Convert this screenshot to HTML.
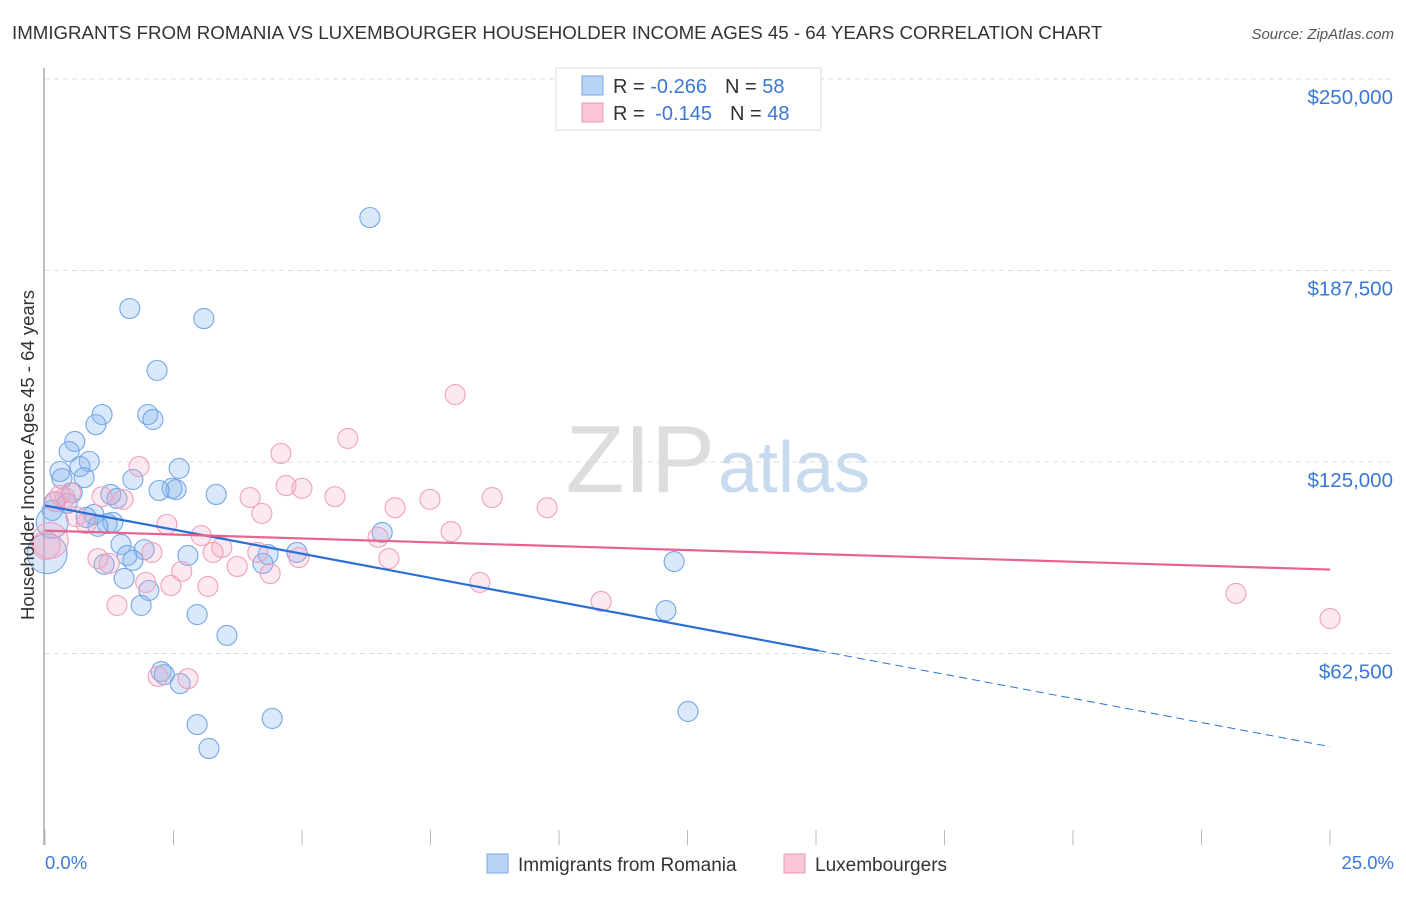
<!DOCTYPE html>
<html><head><meta charset="utf-8"><style>
body{margin:0;background:#fff;font-family:"Liberation Sans",sans-serif;}
svg text{font-family:"Liberation Sans",sans-serif;}
</style></head><body>
<svg id="chart" width="1406" height="892">
<text x="12" y="39" font-size="18.7" fill="#333">IMMIGRANTS FROM ROMANIA VS LUXEMBOURGER HOUSEHOLDER INCOME AGES 45 - 64 YEARS CORRELATION CHART</text>
<text x="1394" y="39" font-size="15" fill="#555" font-style="italic" text-anchor="end">Source: ZipAtlas.com</text>
<text x="715" y="492" font-size="96" fill="#ddd" text-anchor="end" font-family="Liberation Serif">ZIP</text>
<text x="718" y="492" font-size="72" fill="#c8daf0">atlas</text>
<g id="grid"></g><g id="axes"></g><g id="pts"></g><g id="trends"></g>
<text x="34" y="455" font-size="18.5" fill="#333" text-anchor="middle" transform="rotate(-90 34 455)">Householder Income Ages 45 - 64 years</text>
<text x="45" y="869" font-size="18.5" fill="#3a78d8">0.0%</text>
<text x="1394" y="869" font-size="18.5" fill="#3a78d8" text-anchor="end">25.0%</text>
<g>
<rect x="556" y="68" width="265" height="62" fill="#fff" stroke="#ddd"/>
<rect x="582" y="76" width="21" height="19" fill="#b8d3f5" stroke="#7aa8e8"/>
<rect x="582" y="103" width="21" height="19" fill="#fac6d6" stroke="#ee98b4"/>
<text x="613" y="93" font-size="20" fill="#333">R = <tspan fill="#3a78d8">-0.266</tspan><tspan dx="18">N = </tspan><tspan fill="#3a78d8">58</tspan></text>
<text x="613" y="120" font-size="20" fill="#333">R = <tspan fill="#3a78d8" dx="5">-0.145</tspan><tspan dx="18">N = </tspan><tspan fill="#3a78d8">48</tspan></text>
</g>
<g>
<rect x="487" y="854" width="21" height="19" fill="#b8d3f5" stroke="#7aa8e8"/>
<text x="518" y="871" font-size="19" fill="#333">Immigrants from Romania</text>
<rect x="784" y="854" width="21" height="19" fill="#fac6d6" stroke="#ee98b4"/>
<text x="815" y="871" font-size="19" fill="#333">Luxembourgers</text>
</g>
</svg>
<script>
const yTicks=[62500,125000,187500,250000];
const yTickLabels=["$62,500","$125,000","$187,500","$250,000"];
const xTicks=[0,2.5,5,7.5,10,12.5,15,17.5,20,22.5,25];
const blueX=[6.32,1.65,3.09,2.18,1.11,2.0,2.1,0.99,0.58,0.47,0.86,0.68,2.61,0.29,0.76,0.33,1.71,2.47,2.55,2.22,0.53,3.33,1.28,1.40,0.19,0.43,0.14,0.95,0.80,0.14,1.32,1.21,1.03,6.56,1.48,1.93,4.90,4.34,2.78,1.60,1.71,4.24,1.15,12.24,0.04,1.54,2.02,1.87,12.08,2.96,3.54,2.26,2.32,2.63,12.51,4.42,2.96,3.19];
const blueY=[204800,175100,171800,154900,140500,140500,138900,137200,131700,128400,125200,123500,122900,121900,119900,119600,119300,116400,116000,115700,115000,114400,114400,113100,112100,111500,109200,107900,106900,105300,105300,104900,104000,102000,98100,96400,95500,94800,94500,94500,92900,91900,91600,92500,95100,87000,83100,78200,76500,75200,68400,56600,55600,52700,43600,41300,39300,31500];
const blueR=[10,10,10,10,10,10,10,10,10,10,10,10,10,10,10,10,10,10,10,10,10,10,10,10,10,10,10,10,10,16,10,10,10,10,10,10,10,10,10,10,10,10,10,10,20,10,10,10,10,10,10,10,10,10,10,10,10,10];
const pinkX=[7.98,5.89,4.59,1.83,4.69,5.0,0.29,0.5,1.11,1.52,3.99,5.64,7.49,8.70,6.81,9.77,4.22,0.6,0.8,2.37,7.9,3.04,6.48,0.1,3.44,2.08,3.27,4.14,1.03,4.94,6.69,1.25,3.74,2.66,4.38,1.96,2.45,3.17,8.46,10.82,1.40,23.17,25.0,2.2,2.78,0.39,0.02,0.2];
const pinkY=[147000,132700,127800,123500,117300,116400,114100,115000,113700,112800,113400,113700,112800,113400,110100,110100,108200,107200,104900,104600,102300,101000,100400,99400,97100,95500,95500,95500,93500,93800,93500,91900,90900,89300,88600,85700,84700,84400,85700,79500,78200,82100,73900,55000,54300,113400,97800,112000];
const pinkR=[10,10,10,10,10,10,10,10,10,10,10,10,10,10,10,10,10,10,10,10,10,10,10,18,10,10,10,10,10,10,10,10,10,10,10,10,10,10,10,10,10,10,10,10,10,10,14,10];
const blueTrend=[110800,32100], pinkTrend=[102600,89900];
const NS="http://www.w3.org/2000/svg";
const X=v=>45+v/25*1285, Y=v=>845-v/250000*766;
function mk(t,a,p){const e=document.createElementNS(NS,t);for(const k in a)e.setAttribute(k,a[k]);document.getElementById(p).appendChild(e);return e;}
yTicks.forEach((t,i)=>{
 const l=mk('line',{x1:45,x2:1394,y1:Y(t),y2:Y(t),stroke:'#ddd','stroke-dasharray':'5,4'},'grid');
 
 
 const tx=mk('text',{x:1393,y:Y(t)+25,'font-size':20.5,fill:'#3a78d8','text-anchor':'end'},'grid');tx.textContent=yTickLabels[i];
 
 
});
const ax=mk('line',{x1:44,x2:44,y1:68,y2:845,stroke:'#aaa','stroke-width':1.5},'axes');


xTicks.forEach(t=>{const l=mk('line',{x1:X(t),x2:X(t),y1:830,y2:845,stroke:'#bbb'},'axes');
 
 });
blueX.forEach((v,i)=>{const c=mk('circle',{cx:X(v),cy:Y(blueY[i]),r:blueR[i],fill:'rgba(130,178,238,0.3)',stroke:'#75a6e4','stroke-width':1.1},'pts');
 
 });
pinkX.forEach((v,i)=>{const c=mk('circle',{cx:X(v),cy:Y(pinkY[i]),r:pinkR[i],fill:'rgba(245,165,195,0.25)',stroke:'#f0a0bb','stroke-width':1.1},'pts');
 
 });
const bs=(blueTrend[1]-blueTrend[0])/25, bAt=x=>blueTrend[0]+bs*x;
let t1=mk('line',{x1:X(0),y1:Y(bAt(0)),x2:X(15.05),y2:Y(bAt(15.05)),stroke:'#2a6fd6','stroke-width':2.2},'trends');


let t2=mk('line',{x1:X(15.05),y1:Y(bAt(15.05)),x2:X(25),y2:Y(bAt(25)),stroke:'#2a6fd6','stroke-width':1,'stroke-dasharray':'8,5'},'trends');


let t3=mk('line',{x1:X(0),y1:Y(pinkTrend[0]),x2:X(25),y2:Y(pinkTrend[1]),stroke:'#e8648f','stroke-width':2.2},'trends');


</script>
</body></html>
